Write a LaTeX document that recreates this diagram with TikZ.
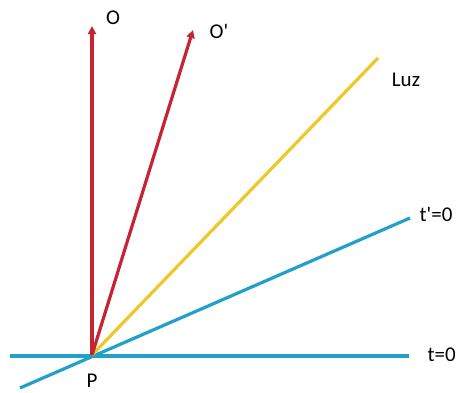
\documentclass[tikz,border=0pt]{standalone}
\usepackage{fontspec}
\setmainfont{Carlito}
\usetikzlibrary{arrows.meta}

\definecolor{worldred}{RGB}{200,35,50}
\definecolor{lightyellow}{RGB}{238,200,40}
\definecolor{simblue}{RGB}{35,160,200}

\begin{document}
\begin{tikzpicture}[
  x=1pt, y=-1pt,
  worldline/.style={worldred, line width=3.2pt, -{Triangle[length=8pt,width=8pt]}},
  lightray/.style={lightyellow, line width=3.2pt},
  simline/.style={simblue, line width=3.2pt},
  lab/.style={font=\fontsize{21}{24}\selectfont, inner sep=0pt}
]
\useasboundingbox (0,0) rectangle (458,392);
\coordinate (P) at (92,355);
\coordinate (otip) at (92,26);
\coordinate (optip) at (193,30);
\coordinate (luzend) at (378,58);
\coordinate (tleft) at (10,356);
\coordinate (tright) at (409,356);
\coordinate (tpleft) at (20,388);
\coordinate (tpright) at (410,218);
% simultaneity lines
\draw[simline] (tleft) -- (tright);
\draw[simline] (tpleft) -- (tpright);
% light ray
\draw[lightray] (P) -- (luzend);
% observers
\draw[worldline] (P) -- (otip);
\draw[worldline] (P) -- (optip);
% labels
\node[lab] (olab) at (113,18) {O};
\node[lab] (oplab) at (219,31) {O\textquotesingle};
\node[lab] (luzlab) at (406,80) {Luz};
\node[lab] (tplab) at (436,214) {t\textquotesingle=0};
\node[lab, anchor=east] (tlab) at (456,355) {t=0};
\node[lab] (plab) at (92,381) {P};
\end{tikzpicture}
\end{document}
